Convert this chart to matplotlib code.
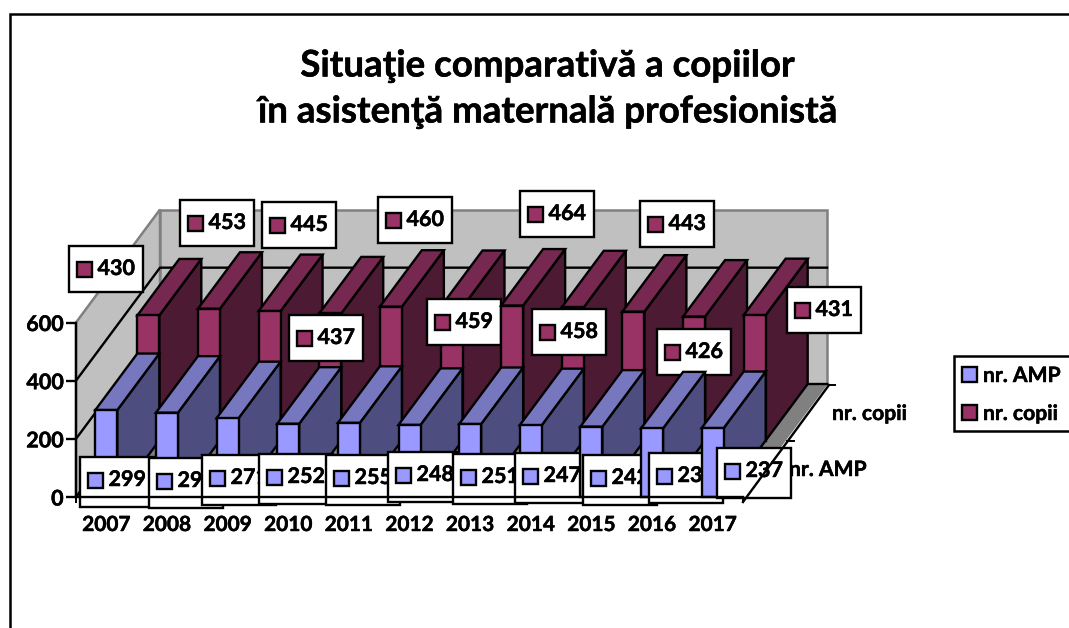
import matplotlib
matplotlib.use("Agg")
import matplotlib.pyplot as plt
from matplotlib.patches import Polygon, Rectangle
from matplotlib.transforms import Affine2D
import matplotlib.patheffects as pe

years = [2007, 2008, 2009, 2010, 2011, 2012, 2013, 2014, 2015, 2016, 2017]
nr_amp = [299, 290, 271, 252, 255, 248, 251, 247, 242, 236, 237]
nr_copii = [430, 453, 445, 437, 460, 459, 464, 458, 443, 426, 431]
series_names = ["nr. AMP", "nr. copii"]
value_ticks = [0, 200, 400, 600]
title_lines = ["Situaţie comparativă a copiilor", "în asistenţă maternală profesionistă"]

# style / layout (pixels of the 1069x628 canvas)
W, H = 1069, 628
FONT = "Lato"
LW = 1.7
amp_cols = ("#9999FF", "#7777C0", "#4D4D80")
cop_cols = ("#993366", "#772850", "#4D1A33")
amp_boxes = [(80, 457), (149, 458), (202, 455), (259, 454), (326, 455), (388, 452),
             (453, 454), (515, 453), (583, 455), (649, 453), (717, 448)]
cop_boxes = [(69, 246), (180, 200), (262, 202), (289, 315), (378, 197), (427, 299),
             (520, 191), (532, 309), (640, 201), (657, 329), (787, 287)]
BOLDER = [pe.withStroke(linewidth=0.35, foreground="black")]
TXT = dict(fontfamily=FONT, fontweight="bold", path_effects=BOLDER)

fig = plt.figure(figsize=(W / 100, H / 100), dpi=100, facecolor="white")
px = Affine2D().scale(1 / W, -1 / H).translate(0, 1) + fig.transFigure

# axes: front plane of the 3-D box
AL, AR, AT, AB = 76, 743, 322.5, 497
ax = fig.add_axes([AL / W, 1 - AB / H, (AR - AL) / W, (AB - AT) / H])
ax.set_xlim(-0.5, 10.5)
ax.set_ylim(0, 600)
ax.set_autoscale_on(False)
ax.patch.set_visible(False)
for s in ("top", "right"):
    ax.spines[s].set_visible(False)
for s in ("left", "bottom"):
    ax.spines[s].set_linewidth(LW)
    ax.spines[s].set_zorder(200)
ax.set_yticks(value_ticks)
ax.set_yticklabels([str(v) for v in value_ticks], fontsize=15.5, **TXT)
ax.set_xticks([i + 0.5 for i in range(-1, 11)])
ax.set_xticklabels([])
ax.tick_params(axis="y", length=7, width=LW, pad=2)
ax.tick_params(axis="x", length=4, width=1.4, direction="out")
for t in ax.xaxis.get_ticklines() + ax.yaxis.get_ticklines():
    t.set_zorder(200)
for i, y in enumerate(years):
    ax.annotate(str(y), (i, 0), xytext=(0, -18), textcoords="offset pixels", ha="center", va="top",
                fontsize=15, annotation_clip=False, **TXT)

# oblique projection: depth d in [0,1]
CATPX = (AR - AL) / 11
VALPX = (AB - AT) / 600
DX, DY = 84 / CATPX, 113 / VALPX
def P(x, v, d=0.0):
    return (x + d * DX, v + d * DY)

def poly(pts, fc, ec="black", lw=LW, z=1):
    ax.add_patch(Polygon(pts, closed=True, facecolor=fc, edgecolor=ec, linewidth=lw,
                         zorder=z, clip_on=False, joinstyle="miter"))

# walls and floor
x0, x1 = -0.5, 10.5
poly([P(x0, 0), P(x0, 600), P(x0, 600, 1), P(x0, 0, 1)], "#C0C0C0", ec="#808080", lw=1.8, z=1)
poly([P(x0, 0, 1), P(x0, 600, 1), P(x1, 600, 1), P(x1, 0, 1)], "#C0C0C0", ec="#808080", lw=1.8, z=1)
poly([P(x0, 0), P(x0, 0, 1), P(x1, 0, 1), P(x1, 0)], "#808080", ec="#808080", lw=1, z=1)
for v in value_ticks[:-1]:
    a, b, c = P(x0, v), P(x0, v, 1), P(x1, v, 1)
    ax.plot([a[0], b[0], c[0]], [a[1], b[1], c[1]], color="black", lw=LW, zorder=2, clip_on=False)

# bars
BW = 22 / CATPX
def bar(i, val, d0, d1, cols, z):
    l, r = i - BW / 2, i + BW / 2
    poly([P(r, 0, d0), P(r, val, d0), P(r, val, d1), P(r, 0, d1)], cols[2], z=z)
    poly([P(l, val, d0), P(l, val, d1), P(r, val, d1), P(r, val, d0)], cols[1], z=z)
    poly([P(l, 0, d0), P(l, val, d0), P(r, val, d0), P(r, 0, d0)], cols[0], z=z)

def label(x, y, h, val, col, z):
    ax.add_patch(Rectangle((x, y), 74, h, fc="white", ec="black", lw=LW, zorder=z,
                           transform=px, clip_on=False))
    ax.add_patch(Rectangle((x + 8, y + 15.5), 15, 15, fc=col, ec="black", lw=LW, zorder=z + 0.1,
                           transform=px, clip_on=False))
    ax.text(x + 28.5, y + 22.5, str(val), fontsize=15.5, va="center", ha="left", zorder=z + 0.2,
            transform=px, clip_on=False, **TXT)

# each bar is followed by its own label, so the next bar hides part of the label
for i, v in enumerate(nr_copii):
    bar(i, v, 0.5, 1.0, cop_cols, 10 + 2 * i)
    label(*cop_boxes[i], 46, v, cop_cols[0], 11 + 2 * i)
for i, v in enumerate(nr_amp):
    bar(i, v, 0.0, 0.5, amp_cols, 40 + 2 * i)
    label(*amp_boxes[i], 50, v, amp_cols[0], 41 + 2 * i)

# depth axis
ax.plot([743, 829], [502, 385], color="black", lw=LW, zorder=200, transform=px, clip_on=False)
ax.plot([787, 794], [441, 441], color="black", lw=1.4, zorder=200, transform=px, clip_on=False)
ax.plot([829, 835], [385, 385], color="black", lw=1.4, zorder=200, transform=px, clip_on=False)
ax.text(832, 414, series_names[1], fontsize=15.2, va="center", ha="left", zorder=5,
        transform=px, clip_on=False, **TXT)
ax.text(789, 470, series_names[0], fontsize=15.2, va="center", ha="left", zorder=5,
        transform=px, clip_on=False, **TXT)

# legend
ax.add_patch(Rectangle((954, 356), 130, 75, fc="white", ec="black", lw=1.8, zorder=70,
                       transform=px, clip_on=False))
for yy, name, col in ((375, series_names[0], amp_cols[0]), (413, series_names[1], cop_cols[0])):
    ax.add_patch(Rectangle((962, yy - 8), 15, 15, fc=col, ec="black", lw=LW, zorder=71,
                           transform=px, clip_on=False))
    ax.text(983, yy + 1, name, fontsize=15.2, va="center", ha="left", zorder=71,
            transform=px, clip_on=False, **TXT)

# chart border
ax.plot([9.5, 9.5, 1069], [628, 14, 14], color="black", lw=1.8, zorder=80,
        solid_joinstyle="miter", transform=px, clip_on=False)

# title
for yy, line in zip((66, 112), title_lines):
    ax.text(547, yy, line, fontsize=26.4, ha="center", va="center", zorder=80,
            transform=px, clip_on=False, **TXT)

fig.savefig("out.png", dpi=100)
